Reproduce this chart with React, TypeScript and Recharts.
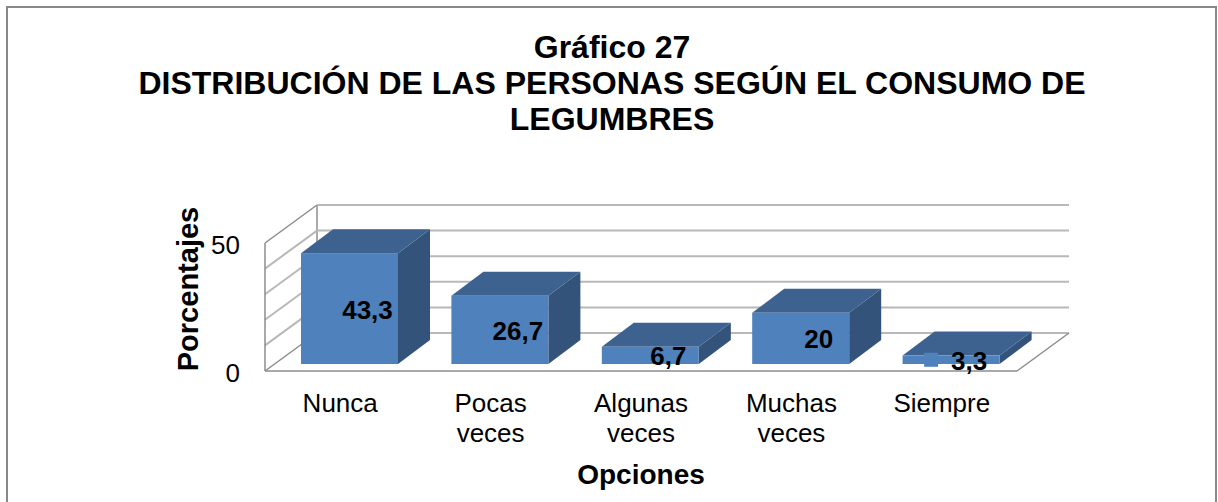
import React from 'react';
import { BarChart, Bar, XAxis, YAxis, CartesianGrid, LabelList, Label } from 'recharts';

// datos del gráfico
const categories = ['Nunca', 'Pocas veces', 'Algunas veces', 'Muchas veces', 'Siempre'];
const percentages = [43.3, 26.7, 6.7, 20, 3.3];
const valueLabels = ['43,3', '26,7', '6,7', '20', '3,3'];
const gridTicks = [0, 10, 20, 30, 40, 50];
const shownTicks = [0, 50];
const titleLines = ['Gráfico 27', 'DISTRIBUCIÓN DE LAS PERSONAS SEGÚN EL CONSUMO DE', 'LEGUMBRES'];

const data = categories.map((c, i) => ({ opcion: c, valor: percentages[i], etiqueta: valueLabels[i] }));

const FONT = '"Liberation Sans", Arial, sans-serif';
const FRONT = '#4F81BD';
const TOP = '#3D6290';
const SIDE = '#34537B';
const GRID = '#B8B8B8';
const EDGE = '#8C8C8C';

// profundidad de la "caja" 3D (pared y barras)
const WALL_DX = 52;
const WALL_DY = -38;
const BAR_OFF_X = 9;
const BAR_OFF_Y = -7;
const BAR_DX = 32;
const BAR_DY = -24;

const Box3D = (props: any) => {
  const { x, y, width, height } = props;
  if (width == null || height == null) return null;
  const fx = x + BAR_OFF_X;
  const fy = y + BAR_OFF_Y;
  const top = `${fx},${fy} ${fx + BAR_DX},${fy + BAR_DY} ${fx + width + BAR_DX},${fy + BAR_DY} ${fx + width},${fy}`;
  const side = `${fx + width},${fy} ${fx + width + BAR_DX},${fy + BAR_DY} ${fx + width + BAR_DX},${fy + height + BAR_DY} ${fx + width},${fy + height}`;
  return (
    <g>
      <polygon points={side} fill={SIDE} />
      <polygon points={top} fill={TOP} />
      <rect x={fx} y={fy} width={width} height={height} fill={FRONT} />
    </g>
  );
};

const GridLine = (props: any) => {
  const { x1, y1, x2, y, height, index } = props;
  const isFloor = Math.abs(y1 - (y + height)) < 0.5;
  const isEdge = isFloor || Math.abs(y1 - y) < 0.5;
  return (
    <g key={`g-${index}`}>
      <line x1={x1 + WALL_DX} y1={y1 + WALL_DY} x2={x2 + WALL_DX} y2={y1 + WALL_DY} stroke={GRID} strokeWidth={2} />
      <line x1={x1} y1={y1} x2={x1 + WALL_DX} y2={y1 + WALL_DY} stroke={isEdge ? EDGE : GRID} strokeWidth={isEdge ? 1.5 : 2} />
      {isFloor && (
        <>
          <line x1={x1 + WALL_DX} y1={y + WALL_DY} x2={x1 + WALL_DX} y2={y1 + WALL_DY} stroke={EDGE} strokeWidth={1.5} />
          <line x1={x2} y1={y1} x2={x2 + WALL_DX} y2={y1 + WALL_DY} stroke={EDGE} strokeWidth={1.5} />
        </>
      )}
    </g>
  );
};

const YTick = (props: any) => {
  const { x, y, payload } = props;
  if (!shownTicks.includes(payload.value)) return null;
  return (
    <text x={x - 17} y={y + 2} textAnchor="end" dominantBaseline="central" fontSize={26} fontFamily={FONT} fill="#000">
      {payload.value}
    </text>
  );
};

const XTick = (props: any) => {
  const { x, y, payload } = props;
  const lines = String(payload.value).split(' ');
  return (
    <text textAnchor="middle" fontSize={26} fontFamily={FONT} fill="#000">
      {lines.map((l, i) => (
        <tspan key={i} x={x} y={y + 41 + i * 30}>{l}</tspan>
      ))}
    </text>
  );
};

const ValueLabel = (props: any) => {
  const { x, y, width, height, value, index } = props;
  const cx = x + BAR_OFF_X + width / 2 + 18;
  const cy = y + BAR_OFF_Y + height / 2;
  return (
    <g>
      {index === categories.length - 1 && (
        <rect x={cx - 45} y={cy - 7} width={14} height={14} fill={FRONT} />
      )}
      <text x={cx} y={cy + 1} textAnchor="middle" dominantBaseline="central" fontSize={26} fontWeight="bold" fontFamily={FONT} fill="#000">
        {value}
      </text>
    </g>
  );
};

export default function App() {
  return (
    <div style={{ position: 'absolute', left: 0, top: 0, width: 1218, height: 502, background: '#fff', overflow: 'hidden' }}>
      <div style={{ position: 'absolute', left: 6, top: 6, width: 1211, height: 540, border: '2px solid #888', boxSizing: 'border-box' }} />
      <BarChart width={1218} height={502} data={data} margin={{ top: 243, right: 201, bottom: 0, left: 0 }} barSize={97}>
        <CartesianGrid vertical={false} horizontal={GridLine} />
        <XAxis
          dataKey="opcion"
          height={131}
          tick={<XTick />}
          tickLine={false}
          tickSize={0}
          tickMargin={0}
          interval={0}
          axisLine={{ stroke: EDGE, strokeWidth: 1.5 }}
        >
          <Label
            content={() => (
              <text x={641} y={484} textAnchor="middle" fontSize={28} fontWeight="bold" fontFamily={FONT} fill="#000">
                Opciones
              </text>
            )}
          />
        </XAxis>
        <YAxis
          width={265}
          domain={[0, 50]}
          ticks={gridTicks}
          tick={<YTick />}
          tickLine={false}
          axisLine={{ stroke: EDGE, strokeWidth: 1.5 }}
        >
          <Label
            content={() => (
              <text x={198} y={289} transform="rotate(-90 198 289)" textAnchor="middle" fontSize={29} fontWeight="bold" fontFamily={FONT} fill="#000">
                Porcentajes
              </text>
            )}
          />
        </YAxis>
        <Bar dataKey="valor" shape={<Box3D />} isAnimationActive={false}>
          <LabelList dataKey="etiqueta" content={<ValueLabel />} />
        </Bar>
      </BarChart>
      <div style={{ position: 'absolute', left: 0, top: 29, width: 1224, textAlign: 'center', fontFamily: FONT, fontWeight: 'bold', fontSize: 32, lineHeight: '36px', color: '#000', pointerEvents: 'none' }}>
        {titleLines.map((t, i) => (
          <div key={i}>{t}</div>
        ))}
      </div>
    </div>
  );
}
